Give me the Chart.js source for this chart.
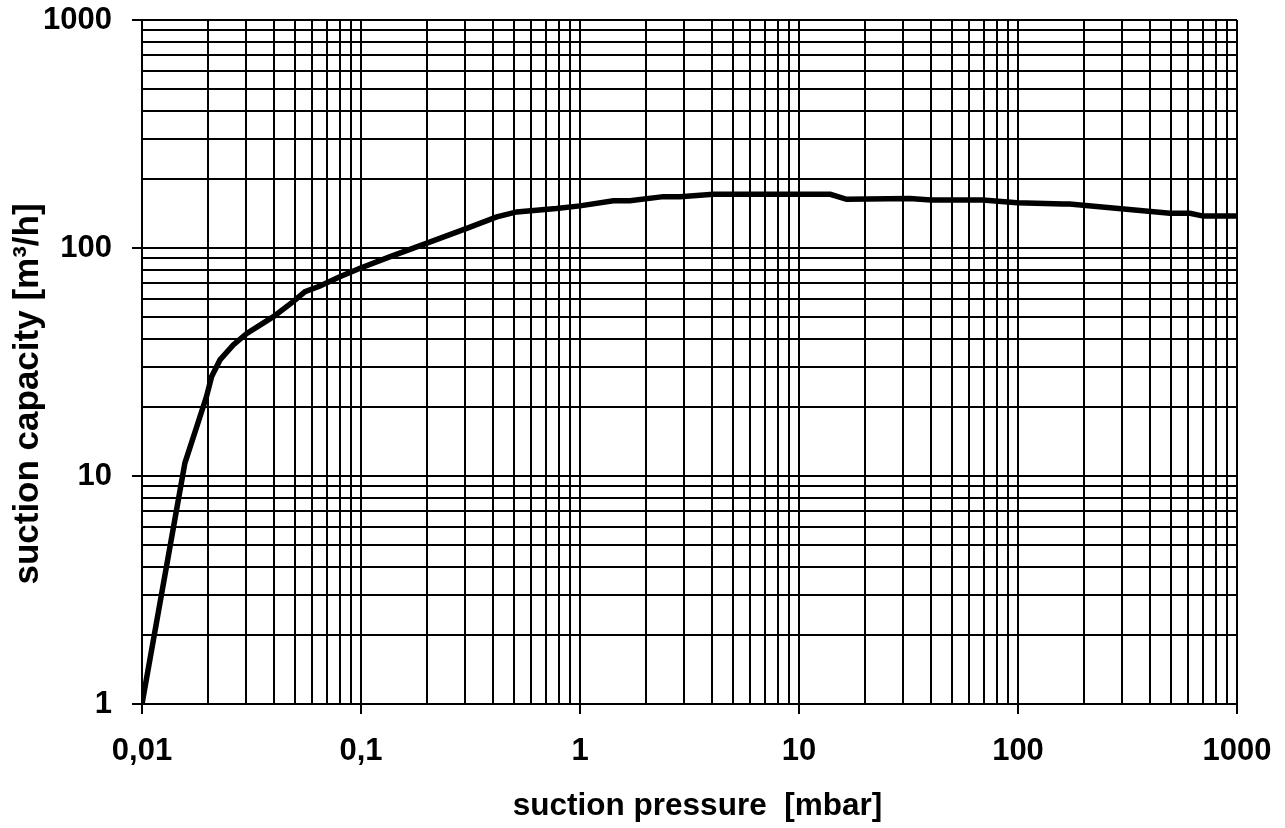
<!DOCTYPE html>
<html>
<head>
<meta charset="utf-8">
<script src="https://cdn.jsdelivr.net/npm/chart.js@4/dist/chart.umd.min.js"></script>
<style>
  html, body { margin: 0; padding: 0; background: #fff; }
  #wrap { width: 1285px; height: 828px; position: relative; }
</style>
</head>
<body>
<div id="wrap"><canvas id="c"></canvas></div>
<script>
// ---- data ----
const pressure = [0.01, 0.0157, 0.0178, 0.0197, 0.0208, 0.0227, 0.0261, 0.0301, 0.0398, 0.049,
  0.0555, 0.065, 0.08, 0.099, 0.136, 0.2, 0.304, 0.417, 0.514, 0.78,
  1.0, 1.42, 1.69, 2.4, 2.86, 4.06, 13.9, 16.5, 32, 40,
  69, 99, 161, 172, 494, 610, 701, 1000];
const capacity = [1, 11.4, 16.5, 22.3, 27.3, 32.3, 37.6, 42.2, 50, 58.2,
  64.3, 68.1, 74.8, 81.5, 91.6, 105, 122, 137, 144, 149,
  153, 161, 161, 168, 168, 172, 172, 163.5, 165, 162.4,
  162.4, 158, 156, 156, 142, 142, 138, 138];

// ---- axis ticks ----
const xDecades = [-2, -1, 0, 1, 2];
const yDecades = [0, 1, 2];
const mantissas = [1, 2, 3, 4, 5, 6, 7, 8, 9];
const xMax = 1000, yMax = 1000;
const xTickLabels = {"0.01": "0,01", "0.1": "0,1", "1": "1", "10": "10", "100": "100", "1000": "1000"};
const yTickLabels = {"1": "1", "10": "10", "100": "100", "1000": "1000"};
const xTitle = "suction pressure  [mbar]";
const yTitle = "suction capacity [m\u00b3/h]";

function buildTicks(decades, max) {
  const out = [];
  decades.forEach(d => mantissas.forEach(m => out.push(Number((m * Math.pow(10, d)).toPrecision(12)))));
  out.push(max);
  return out;
}
const xTicks = buildTicks(xDecades, xMax);
const yTicks = buildTicks(yDecades, yMax);
const isMajor = v => Math.abs(Math.log10(v) - Math.round(Math.log10(v))) < 1e-9;

const FONT = '"Liberation Sans", Arial, Helvetica, sans-serif';

const axisTitles = {
  id: 'axisTitles',
  afterDraw(chart) {
    const {ctx, chartArea: a} = chart;
    ctx.save();
    ctx.fillStyle = '#000';
    ctx.textAlign = 'center';
    ctx.textBaseline = 'middle';
    ctx.font = 'bold 31.5px ' + FONT;
    ctx.fillText(xTitle, (a.left + a.right) / 2 + 8, a.bottom + 102);
    ctx.font = 'bold 35px ' + FONT;
    ctx.translate(28, (a.top + a.bottom) / 2 + 32);
    ctx.rotate(-Math.PI / 2);
    ctx.fillText(yTitle, 0, 0);
    ctx.restore();
  }
};

const gridCommon = {
  color: '#000',
  lineWidth: 2,
  tickLength: 10,
  tickWidth: 2,
  tickColor: ctx => (ctx.tick && isMajor(ctx.tick.value)) ? '#000' : 'rgba(0,0,0,0)'
};

new Chart(document.getElementById('c'), {
  type: 'line',
  data: {
    datasets: [{
      data: pressure.map((p, i) => ({x: p, y: capacity[i]})),
      borderColor: '#000',
      borderWidth: 5.5,
      pointRadius: 0,
      tension: 0,
      fill: false
    }]
  },
  options: {
    responsive: true,
    maintainAspectRatio: false,
    animation: false,
    layout: { padding: { top: 20, right: 48, bottom: 0, left: 0 } },
    plugins: { legend: { display: false }, tooltip: { enabled: false } },
    scales: {
      x: {
        type: 'logarithmic',
        min: 0.01, max: xMax,
        afterBuildTicks: s => { s.ticks = xTicks.map(v => ({value: v, major: isMajor(v)})); },
        afterFit: s => { s.height = 124; s.paddingLeft = 0; s.paddingRight = 0; },
        grid: gridCommon,
        border: { color: '#000', width: 2 },
        ticks: {
          autoSkip: false, maxRotation: 0, minRotation: 0, padding: 19,
          color: '#000',
          font: { family: FONT, size: 31, weight: 'bold' },
          callback: v => xTickLabels[String(v)] || ''
        }
      },
      y: {
        type: 'logarithmic',
        min: 1, max: yMax,
        afterBuildTicks: s => { s.ticks = yTicks.map(v => ({value: v, major: isMajor(v)})); },
        afterFit: s => { s.width = 142; s.paddingTop = 0; s.paddingBottom = 0; },
        grid: gridCommon,
        border: { color: '#000', width: 2 },
        ticks: {
          autoSkip: false, padding: 20,
          color: '#000',
          font: { family: FONT, size: 31, weight: 'bold' },
          callback: v => yTickLabels[String(v)] || ''
        }
      }
    }
  },
  plugins: [axisTitles]
});
</script>
</body>
</html>
